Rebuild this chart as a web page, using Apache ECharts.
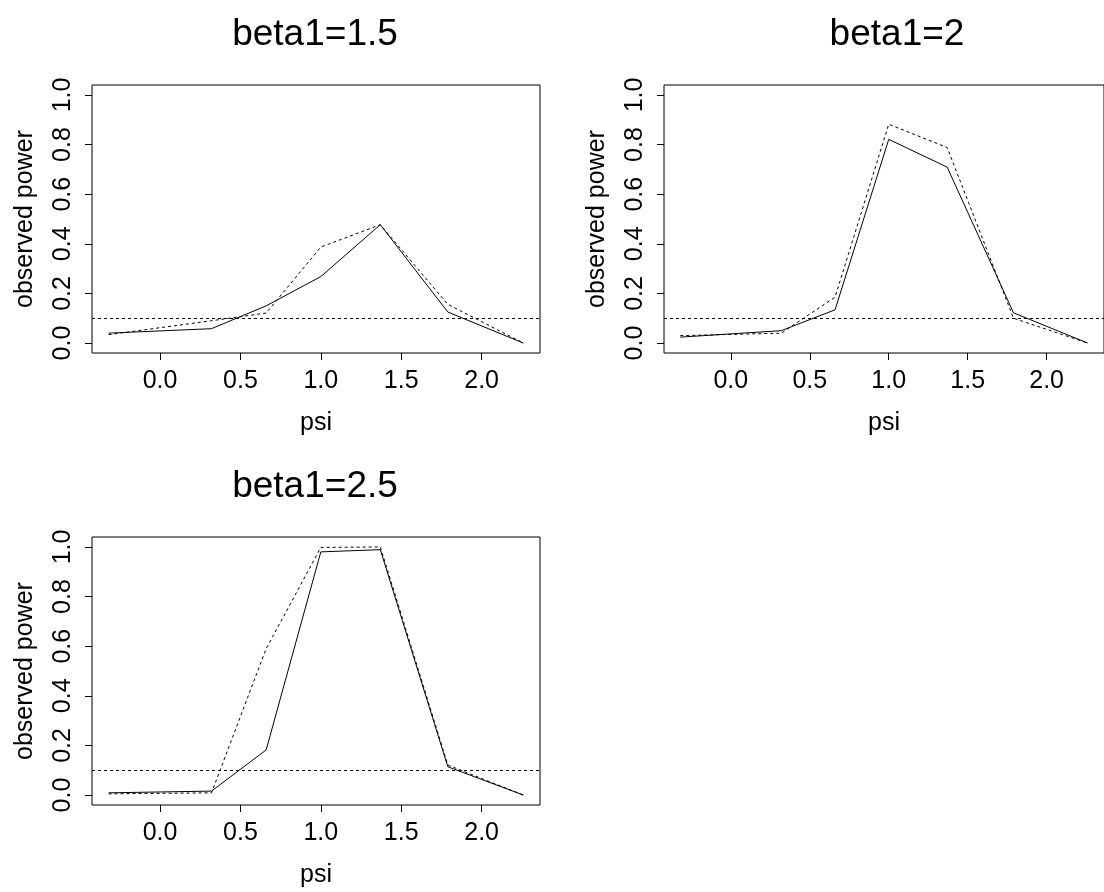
<!DOCTYPE html>
<html>
<head>
<meta charset="utf-8">
<title>observed power vs psi</title>
<script src="https://cdn.jsdelivr.net/npm/echarts@6/dist/echarts.min.js"></script>
<style>
  html, body { margin: 0; padding: 0; background: #fff; }
  #chart { width: 1104px; height: 892px; }
</style>
</head>
<body>
<div id="chart"></div>
<script>
// psi grid shared by every panel
const psi = [-0.32, 0.32, 0.66, 1.0, 1.37, 1.79, 2.26];

// beta1 = 1.5
const solid1 = [0.040, 0.058, 0.150, 0.268, 0.477, 0.125, 0.0];
const dashed1 = [0.034, 0.090, 0.121, 0.387, 0.477, 0.156, 0.0];
// beta1 = 2
const solid2 = [0.024, 0.050, 0.134, 0.821, 0.709, 0.122, 0.0];
const dashed2 = [0.030, 0.040, 0.185, 0.882, 0.788, 0.100, 0.0];
// beta1 = 2.5
const solid3 = [0.009, 0.016, 0.182, 0.980, 0.989, 0.114, 0.0];
const dashed3 = [0.005, 0.009, 0.590, 0.998, 1.0, 0.121, 0.0];

const titles = ['beta1=1.5', 'beta1=2', 'beta1=2.5'];
const xTicks = [0, 0.5, 1, 1.5, 2];
const yTicks = [0, 0.2, 0.4, 0.6, 0.8, 1];
const refLevel = 0.1;

const FONT = "'Liberation Sans', Arial, sans-serif";

// plot boxes, in px (second one runs off the right edge like the original)
const boxes = [
  { left: 92, top: 85, width: 448, height: 268 },
  { left: 664, top: 85, width: 448, height: 268 },
  { left: 92, top: 537, width: 448, height: 268 }
];
// title centres
const titleX = [310, 892, 310];

const panels = [
  { solid: solid1, dashed: dashed1 },
  { solid: solid2, dashed: dashed2 },
  { solid: solid3, dashed: dashed3 }
];

const pairs = ys => psi.map((x, i) => [x, ys[i]]);

const grid = [], xAxis = [], yAxis = [], series = [], title = [];

boxes.forEach((b, i) => {
  grid.push({
    left: b.left, top: b.top, width: b.width, height: b.height,
    show: true, borderColor: '#000', borderWidth: 1, backgroundColor: 'transparent'
  });
  title.push({
    text: titles[i],
    left: titleX[i],
    top: b.top - 74,
    textAlign: 'center',
    textStyle: { fontFamily: FONT, fontSize: 37, fontWeight: 'normal', color: '#000' }
  });
  xAxis.push({
    type: 'value', gridIndex: i,
    min: -0.4232, max: 2.3632,
    name: 'psi', nameLocation: 'middle', nameGap: 58,
    nameTextStyle: { fontFamily: FONT, fontSize: 25, color: '#000' },
    axisLine: { show: false, onZero: false },
    axisTick: { show: true, length: 7, customValues: xTicks, lineStyle: { color: '#000' } },
    axisLabel: {
      customValues: xTicks, margin: 16,
      formatter: v => v.toFixed(1),
      fontFamily: FONT, fontSize: 25, color: '#000'
    },
    splitLine: { show: false }
  });
  yAxis.push({
    type: 'value', gridIndex: i,
    min: -0.04, max: 1.04,
    name: 'observed power', nameLocation: 'middle', nameGap: 54,
    nameTextStyle: { fontFamily: FONT, fontSize: 25, color: '#000' },
    axisLine: { show: false, onZero: false },
    axisTick: { show: true, length: 7, customValues: yTicks, lineStyle: { color: '#000' } },
    axisLabel: {
      customValues: yTicks, margin: 16, rotate: 90,
      formatter: v => v.toFixed(1),
      fontFamily: FONT, fontSize: 25, color: '#000'
    },
    splitLine: { show: false }
  });

  series.push({
    type: 'line', xAxisIndex: i, yAxisIndex: i,
    data: pairs(panels[i].solid),
    symbol: 'none', silent: true, animation: false,
    lineStyle: { color: '#000', width: 1 },
    markLine: {
      silent: true, symbol: 'none', animation: false,
      label: { show: false },
      lineStyle: { color: '#000', width: 1, type: [3, 3] },
      data: [{ yAxis: refLevel }]
    }
  });
  series.push({
    type: 'line', xAxisIndex: i, yAxisIndex: i,
    data: pairs(panels[i].dashed),
    symbol: 'none', silent: true, animation: false,
    lineStyle: { color: '#000', width: 1, type: [3, 3] }
  });
});

const myChart = echarts.init(document.getElementById('chart'), null, { renderer: 'canvas' });
myChart.setOption({
  backgroundColor: '#fff',
  animation: false,
  title,
  grid,
  xAxis,
  yAxis,
  series
});
</script>
</body>
</html>
